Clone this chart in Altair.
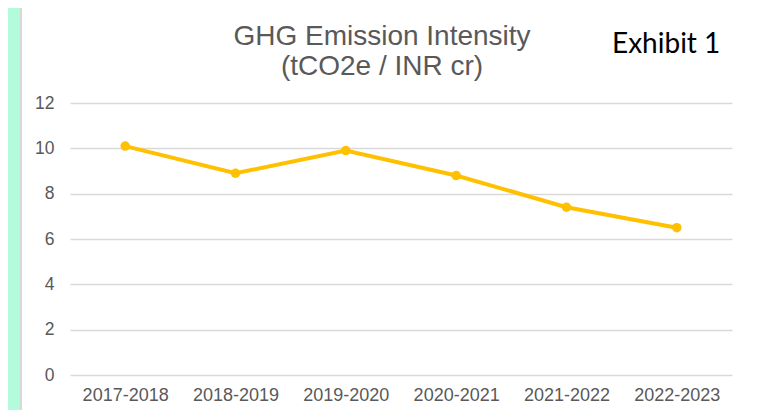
import altair as alt
import pandas as pd

years = ["2017-2018", "2018-2019", "2019-2020", "2020-2021", "2021-2022", "2022-2023"]
intensity = [10.1, 8.9, 9.9, 8.8, 7.4, 6.5]
title_lines = ["GHG Emission Intensity", "(tCO2e / INR cr)"]
exhibit = ["Exhibit 1"]
y_ticks = [0, 2, 4, 6, 8, 10, 12]

df = pd.DataFrame({"year": years, "value": intensity})

GRAY = "#595959"
LINE = "#FFC000"

x_enc = alt.X("year:N", sort=years, title=None,
              scale=alt.Scale(padding=0.5),
              axis=alt.Axis(labelAngle=0, domain=False, ticks=False, labelPadding=11,
                            labelFontSize=18, labelColor=GRAY, labelFont="Liberation Sans"))
y_enc = alt.Y("value:Q", title=None,
              scale=alt.Scale(domain=[0, 12], nice=False),
              axis=alt.Axis(values=y_ticks, domain=False, ticks=False, labelPadding=16,
                            labelFontSize=17.5, labelColor=GRAY, labelFont="Liberation Sans",
                            grid=True, gridColor="#d9d9d9", gridWidth=1.5))

line = alt.Chart(df).mark_line(color=LINE, strokeWidth=4).encode(x=x_enc, y=y_enc)
pts = alt.Chart(df).mark_point(filled=True, color=LINE, size=90, opacity=1).encode(x=x_enc, y=y_enc)

strip = alt.Chart(pd.DataFrame({"a": [0]})).mark_rect(color="#B3FCDB").encode(
    x=alt.value(-80), x2=alt.value(-50), y=alt.value(-120), y2=alt.value(330))
edge = alt.Chart(pd.DataFrame({"a": [0]})).mark_rule(color="#d9d9d9", strokeWidth=2).encode(
    x=alt.value(-49), y=alt.value(-99), y2=alt.value(330))

t1 = alt.Chart(pd.DataFrame({"t": [title_lines[0]]})).mark_text(
    fontSize=28, font="Liberation Sans", color=GRAY, align="center", baseline="alphabetic").encode(
    text="t:N", x=alt.value(312), y=alt.value(-58))
t2 = alt.Chart(pd.DataFrame({"t": [title_lines[1]]})).mark_text(
    fontSize=28, font="Liberation Sans", color=GRAY, align="center", baseline="alphabetic").encode(
    text="t:N", x=alt.value(312), y=alt.value(-28))
t3 = alt.Chart(pd.DataFrame({"t": exhibit})).mark_text(
    fontSize=28, font="Lato", color="#000000", align="left", baseline="alphabetic").encode(
    text="t:N", x=alt.value(542), y=alt.value(-50))

chart = alt.layer(strip, edge, line, pts, t1, t2, t3).properties(
    width=662, height=272,
    autosize=alt.AutoSizeParams(type="none"),
    padding={"left": 62, "top": 95, "right": 21, "bottom": 35},
    background="white",
).configure_view(stroke=None)

chart.save("out.html", embed_options={"renderer": "svg", "actions": False})
